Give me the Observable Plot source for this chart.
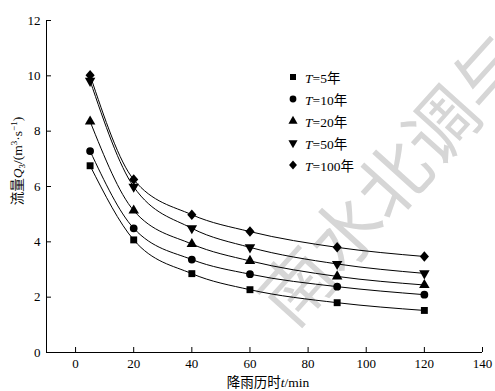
<!DOCTYPE html>
<html>
<head>
<meta charset="utf-8">
<script src="https://cdn.jsdelivr.net/npm/d3@7"></script>
<script src="https://cdn.jsdelivr.net/npm/@observablehq/plot@0.6"></script>
<style>
  html, body { margin: 0; padding: 0; background: white; }
  #wrap { position: relative; width: 495px; height: 391px; overflow: hidden; background: white; }
  #wm { position: absolute; left: 390px; top: 176px; transform: translate(-50%, -50%) rotate(-48deg);
        white-space: nowrap; font-family: "Noto Sans CJK SC", sans-serif; font-size: 72px; line-height: 1;
        color: #d6d6d6; z-index: 0; }
  #chart { position: absolute; left: 0; top: 0; z-index: 1; }
  #legend { position: absolute; left: 287px; top: 66px; z-index: 2;
            font-family: "Liberation Serif", "Noto Sans CJK SC", serif; font-size: 13.5px; color: #000; }
  #legend .row { height: 22px; display: flex; align-items: center; }
  #legend svg { margin-right: 6px; }
</style>
</head>
<body>
<div id="wrap">
  <div id="wm">南水北调与</div>
  <div id="chart"></div>
  <div id="legend"></div>
</div>
<script>
// ---- data ----
const durations = [5, 20, 40, 60, 90, 120];
const seriesNames = ["5", "10", "20", "50", "100"];
const q5   = [6.75, 4.07, 2.85, 2.27, 1.80, 1.52];
const q10  = [7.28, 4.49, 3.36, 2.83, 2.38, 2.09];
const q20  = [8.35, 5.13, 3.92, 3.31, 2.75, 2.44];
const q50  = [9.82, 5.99, 4.49, 3.80, 3.20, 2.86];
const q100 = [10.02, 6.25, 4.98, 4.37, 3.80, 3.47];
const xTicks = [0, 20, 40, 60, 80, 100, 120, 140];
const yTicks = [0, 2, 4, 6, 8, 10, 12];
const xDomain = [-10, 140];
const yDomain = [0, 12];

const allSeries = [q5, q10, q20, q50, q100];
const rows = [];
allSeries.forEach((arr, s) => arr.forEach((v, i) => rows.push({t: durations[i], q: v, series: seriesNames[s]})));

// custom symbols
const triangleDown = {
  draw(context, size) {
    const y = -Math.sqrt(size / (Math.sqrt(3) * 3));
    context.moveTo(0, -y * 2);
    context.lineTo(-Math.sqrt(3) * y, y);
    context.lineTo(Math.sqrt(3) * y, y);
    context.closePath();
  }
};
const diamondWide = {
  draw(context, size) {
    const w = Math.sqrt(size / 2.3), h = 1.15 * w;
    context.moveTo(0, -h);
    context.lineTo(w, 0);
    context.lineTo(0, h);
    context.lineTo(-w, 0);
    context.closePath();
  }
};
const symbolFor = {"5": "square", "10": "circle", "20": "triangle", "50": triangleDown, "100": diamondWide};
const d3SymbolFor = {"5": d3.symbolSquare, "10": d3.symbolCircle, "20": d3.symbolTriangle, "50": triangleDown, "100": diamondWide};

const font = '"Liberation Serif", "Noto Sans CJK SC", serif';

const marks = [
  Plot.ruleX([xDomain[0]], {stroke: "black", strokeWidth: 1}),
  Plot.ruleY([yDomain[0]], {stroke: "black", strokeWidth: 1}),
  Plot.axisX({ticks: xTicks, tickSize: 0, tickPadding: 6, label: null, fontSize: 13}),
  Plot.axisX({ticks: xTicks, tickSize: 5, dy: -5, text: null, label: null}),
  Plot.axisY({ticks: yTicks, tickSize: 0, tickPadding: 6, label: null, fontSize: 13}),
  Plot.axisY({ticks: yTicks, tickSize: 5, dx: 5, text: null, label: null})
];
seriesNames.forEach(s => {
  const data = rows.filter(r => r.series === s);
  marks.push(Plot.line(data, {x: "t", y: "q", curve: "monotone-x", stroke: "black", strokeWidth: 1}));
  marks.push(Plot.dot(data, {x: "t", y: "q", symbol: () => symbolFor[s], fill: "black", stroke: "none", r: 3.9}));
});

const svgEl = Plot.plot({
  width: 495, height: 391,
  marginLeft: 46, marginRight: 13, marginTop: 20, marginBottom: 39,
  style: {fontFamily: font, fontSize: "13px", background: "transparent", color: "black"},
  x: {domain: xDomain, ticks: xTicks},
  y: {domain: yDomain, ticks: yTicks},
  symbol: {type: "identity"},
  marks
});
document.getElementById("chart").appendChild(svgEl);

// axis titles with rich text
const svg = d3.select(svgEl);
const xt = svg.append("text").attr("x", 268).attr("y", 387).attr("text-anchor", "middle")
  .attr("font-size", 13.5).attr("font-family", font).attr("fill", "black");
xt.append("tspan").text("降雨历时");
xt.append("tspan").attr("font-style", "italic").text("t");
xt.append("tspan").text("/min");

const yt = svg.append("text").attr("transform", "translate(22,161) rotate(-90)").attr("text-anchor", "middle")
  .attr("font-size", 13.5).attr("font-family", font).attr("fill", "black");
yt.append("tspan").text("流量");
yt.append("tspan").attr("font-style", "italic").text("Q");
yt.append("tspan").attr("font-size", 9).attr("dy", 3).text("3");
yt.append("tspan").attr("dy", -3).text("/(m");
yt.append("tspan").attr("font-size", 9).attr("dy", -5).text("3");
yt.append("tspan").attr("dy", 5).text("·s");
yt.append("tspan").attr("font-size", 9).attr("dy", -5).text("−1");
yt.append("tspan").attr("dy", 5).text(")");

// legend
const legend = d3.select("#legend");
seriesNames.forEach(s => {
  const row = legend.append("div").attr("class", "row");
  const sv = row.append("svg").attr("width", 12).attr("height", 12);
  sv.append("path").attr("transform", "translate(6,6)")
    .attr("d", d3.symbol(d3SymbolFor[s], 36)()).attr("fill", "black");
  const label = row.append("span");
  label.append("i").text("T");
  label.append("span").text("=" + s + "年");
});
</script>
</body>
</html>
